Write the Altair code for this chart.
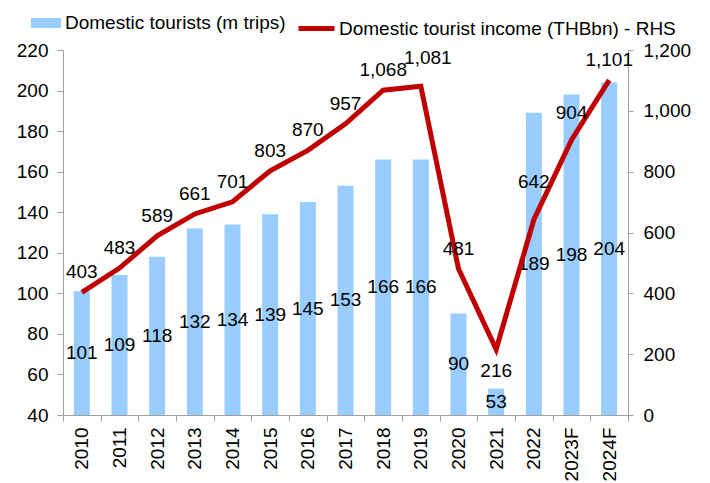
import altair as alt
import pandas as pd

years = ["2010", "2011", "2012", "2013", "2014", "2015", "2016", "2017",
         "2018", "2019", "2020", "2021", "2022", "2023F", "2024F"]
tourists = [101, 109, 118, 132, 134, 139, 145, 153, 166, 166, 90, 53, 189, 198, 204]
income = [403, 483, 589, 661, 701, 803, 870, 957, 1068, 1081, 481, 216, 642, 904, 1101]

bar_name = "Domestic tourists (m trips)"
line_name = "Domestic tourist income (THBbn) - RHS"

df = pd.DataFrame({"year": years, "tourists": tourists, "income": income})

FONT = "Liberation Sans, Arial, sans-serif"
FS = 19
AXIS_COLOR = "#A0A0A0"

x_axis = alt.Axis(title=None, labelAngle=-90, tickBand="extent", tickSize=6,
                  labelPadding=6, labelFont=FONT, labelFontSize=FS,
                  labelColor="black", domainColor=AXIS_COLOR, tickColor=AXIS_COLOR,
                  grid=False)
x_enc = alt.X("year:N", sort=years,
              scale=alt.Scale(paddingInner=0, paddingOuter=0), axis=x_axis)

left_axis = alt.Axis(title=None, orient="left", values=list(range(40, 221, 20)),
                     tickSize=6, labelPadding=9, labelFont=FONT, labelFontSize=FS,
                     labelColor="black", domainColor=AXIS_COLOR,
                     tickColor=AXIS_COLOR, grid=False)
left_scale = alt.Scale(domain=[40, 220], nice=False, zero=False)

right_axis = alt.Axis(title=None, orient="right", values=list(range(0, 1201, 200)),
                      labelExpr="format(datum.value, ',.0f')", tickSize=5,
                      labelPadding=10, labelFont=FONT,
                      labelFontSize=FS, labelColor="black", domainColor=AXIS_COLOR,
                      tickColor=AXIS_COLOR, grid=False)
right_scale = alt.Scale(domain=[0, 1200], nice=False)

base = alt.Chart(df)

bars = base.transform_calculate(series=f"'{bar_name}'").mark_bar(
    size=16, color="#99CCFF"
).encode(
    x=x_enc,
    y=alt.Y("tourists:Q", scale=left_scale, axis=left_axis),
    y2=alt.datum(40),
    color=alt.Color("series:N", scale=alt.Scale(domain=[bar_name], range=["#99CCFF"]),
                    legend=alt.Legend(title=None, orient="none", legendX=-32, legendY=-42,
                                      symbolType="M-1,-0.333H1V0.333H-1Z", symbolSize=900,
                                      symbolStrokeWidth=0, labelFont=FONT,
                                      labelFontSize=FS, labelColor="black",
                                      labelOffset=4, labelLimit=0, padding=0)),
)

bar_labels = base.transform_calculate(mid="(datum.tourists + 40) / 2").mark_text(
    font=FONT, fontSize=FS, color="black", baseline="middle"
).encode(
    x=x_enc,
    y=alt.Y("mid:Q", scale=left_scale, axis=left_axis),
    text=alt.Text("tourists:Q"),
)

left = alt.layer(bars, bar_labels)

line = base.transform_calculate(series2=f"'{line_name}'").mark_line(
    strokeWidth=5, strokeJoin="miter"
).encode(
    x=x_enc,
    y=alt.Y("income:Q", scale=right_scale, axis=right_axis),
    stroke=alt.Stroke("series2:N", scale=alt.Scale(domain=[line_name], range=["#C00000"]),
                      legend=alt.Legend(title=None, orient="none", legendX=233, legendY=-42,
                                        symbolType="stroke", symbolSize=1296,
                                        symbolStrokeWidth=5, labelFont=FONT,
                                        labelFontSize=FS, labelColor="black",
                                        labelOffset=2, labelLimit=0, padding=0)),
)


def line_text(filter_expr, dx, dy):
    return base.transform_filter(filter_expr).mark_text(
        font=FONT, fontSize=FS, color="black", baseline="middle", dx=dx, dy=dy
    ).encode(
        x=x_enc,
        y=alt.Y("income:Q", scale=right_scale, axis=right_axis),
        text=alt.Text("income:Q", format=","),
    )


special = ["2019", "2021", "2022", "2023F"]
lt_main = line_text(alt.FieldOneOfPredicate(field="year", oneOf=[y for y in years if y not in special]), 0, -20)
lt_2019 = line_text(alt.FieldEqualPredicate(field="year", equal="2019"), 7, -28)
lt_2021 = line_text(alt.FieldEqualPredicate(field="year", equal="2021"), 0, 22)
lt_2022 = line_text(alt.FieldEqualPredicate(field="year", equal="2022"), 0, -38)
lt_2023 = line_text(alt.FieldEqualPredicate(field="year", equal="2023F"), 0, -27)

right = alt.layer(line, lt_main, lt_2019, lt_2021, lt_2022, lt_2023)

chart = alt.layer(left, right).resolve_scale(y="independent").properties(
    width=565, height=365,
    autosize=alt.AutoSizeParams(type="none"),
    padding={"left": 55, "top": 42, "right": 72, "bottom": 68},
).configure_view(stroke=None)

chart.save("out.html", embed_options={"renderer": "svg", "actions": False})
